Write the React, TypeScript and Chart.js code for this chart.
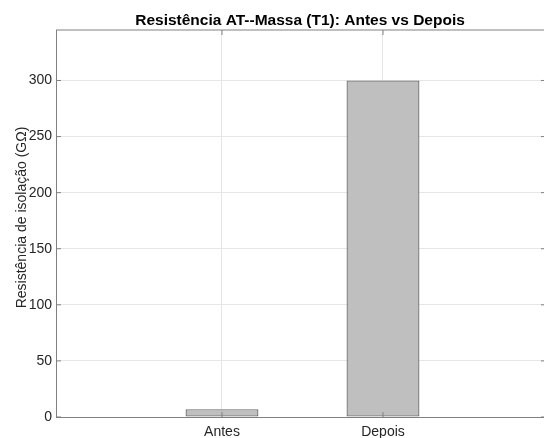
import { useEffect, useRef } from 'react';
import { Chart, registerables } from 'chart.js';

Chart.register(...registerables);

const categories = ['Antes', 'Depois'];
const values = [7, 300];
const yTicks = [0, 50, 100, 150, 200, 250, 300];
const titleText = 'Resistência AT--Massa (T1): Antes vs Depois';
const yLabelText = 'Resistência de isolação (GΩ)';

const FONT = '"Liberation Sans", Arial, Helvetica, sans-serif';
const AXIS = '#808080';
const GRID = '#e6e6e6';
const TEXT = '#262626';

const framePlugin = {
  id: 'frame',
  afterDraw(chart: any) {
    const { ctx, chartArea } = chart;
    const { left, right, top, bottom } = chartArea;
    const xs = chart.scales.x;
    const ys = chart.scales.y;
    ctx.save();
    ctx.strokeStyle = AXIS;
    ctx.lineWidth = 1;
    ctx.beginPath();
    ctx.moveTo(left, top);
    ctx.lineTo(right, top);
    yTicks.forEach((v) => {
      const py = ys.getPixelForValue(v);
      ctx.moveTo(left, py);
      ctx.lineTo(left + 5, py);
      ctx.moveTo(right, py);
      ctx.lineTo(right - 3, py);
    });
    categories.forEach((_, i) => {
      const px = xs.getPixelForValue(i + 1);
      ctx.moveTo(px, bottom);
      ctx.lineTo(px, bottom - 5);
      ctx.moveTo(px, top);
      ctx.lineTo(px, top + 5);
    });
    ctx.stroke();

    ctx.fillStyle = '#000';
    ctx.font = `bold 15.5px ${FONT}`;
    ctx.textAlign = 'center';
    ctx.textBaseline = 'middle';
    ctx.fillText(titleText, (left + right) / 2, 21);

    ctx.translate(22, (top + bottom) / 2 - 6);
    ctx.rotate(-Math.PI / 2);
    ctx.fillStyle = TEXT;
    ctx.font = `14px ${FONT}`;
    ctx.fillText(yLabelText, 0, 0);
    ctx.restore();
  },
};

export default function App() {
  const ref = useRef<HTMLCanvasElement | null>(null);

  useEffect(() => {
    document.body.style.margin = '0';
    if (!ref.current) return;
    const chart = new Chart(ref.current, {
      type: 'bar',
      data: {
        datasets: [
          {
            data: values.map((v, i) => ({ x: i + 1, y: v })),
            backgroundColor: '#bfbfbf',
            borderColor: '#6e6e6e',
            borderWidth: 1.3,
            borderSkipped: false,
            barPercentage: 0.453,
            categoryPercentage: 1,
          },
        ],
      },
      options: {
        responsive: false,
        animation: false,
        layout: { padding: { top: 30, left: 0, right: 0, bottom: 0 } },
        plugins: {
          legend: { display: false },
          tooltip: { enabled: false },
          title: { display: false },
        },
        scales: {
          x: {
            type: 'linear',
            offset: false,
            min: -0.031,
            max: 3.0,
            afterFit: (s: any) => {
              s.height = 21;
            },
            afterBuildTicks: (s: any) => {
              s.ticks = categories.map((_, i) => ({ value: i + 1 }));
            },
            ticks: {
              callback: (v: any) => categories[Math.round(Number(v)) - 1] ?? '',
              color: TEXT,
              font: { family: FONT, size: 14 },
              padding: 7,
              maxRotation: 0,
              autoSkip: false,
            },
            grid: { color: GRID, drawTicks: false, offset: false },
            border: { display: true, color: AXIS, width: 1 },
          },
          y: {
            type: 'linear',
            min: 0,
            max: 345,
            afterFit: (s: any) => {
              s.width = 56;
            },
            afterBuildTicks: (s: any) => {
              s.ticks = yTicks.map((v) => ({ value: v }));
            },
            ticks: {
              color: TEXT,
              font: { family: FONT, size: 14 },
              padding: 4,
              autoSkip: false,
            },
            grid: { color: GRID, drawTicks: false },
            border: { display: true, color: AXIS, width: 1 },
          },
        },
      },
      plugins: [framePlugin],
    } as any);
    return () => chart.destroy();
  }, []);

  return (
    <div style={{ width: 544, height: 438 }}>
      <canvas ref={ref} width={544} height={438} style={{ display: 'block' }} />
    </div>
  );
}
